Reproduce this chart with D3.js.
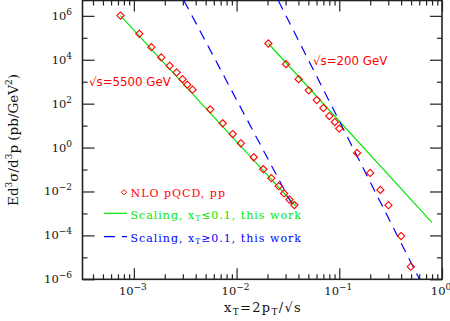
<!DOCTYPE html>
<html>
<head>
<meta charset="utf-8">
<script src="https://cdn.jsdelivr.net/npm/d3@7"></script>
<style>
  body { margin: 0; background: #fff; }
  svg { display: block; }
  .tick-label { font-family: "DejaVu Serif", serif; font-size: 11.5px; fill: #111; }
  .legend-text { font-family: "DejaVu Serif", serif; font-size: 11px; letter-spacing: 1px; }
  .energy { font-family: "DejaVu Sans", sans-serif; font-size: 11.8px; fill: #ff0000; }
</style>
</head>
<body>
<div class="js-d3"></div>
<script>
// NLO pQCD points, sqrt(s) = 5500 GeV
const xt5500 = [0.000741, 0.00113, 0.00148, 0.00185, 0.00223, 0.00261, 0.00298, 0.00331, 0.00373,
  0.00554, 0.00733, 0.00917, 0.0110, 0.0147, 0.0182, 0.0218, 0.0257, 0.0290, 0.0327, 0.0365];
const y5500 = [1.03e6, 1.52e5, 3.74e4, 1.27e4, 5.3e3, 2.65e3, 1.31e3, 730, 433,
  55, 12.7, 4.15, 1.57, 0.362, 0.103, 0.0403, 0.0174, 0.0081, 0.0043, 0.0024];

// NLO pQCD points, sqrt(s) = 200 GeV
const xt200 = [0.0204, 0.0303, 0.0402, 0.0504, 0.0604, 0.070, 0.080, 0.0904, 0.100,
  0.149, 0.200, 0.251, 0.301, 0.40, 0.497];
const y200 = [5.5e4, 6.3e3, 1310, 403, 146, 63, 27.3, 14.6, 7.3,
  0.569, 0.070, 0.0118, 0.00238, 9.3e-5, 3.74e-6];

// scaling curves, read as end points [xT, value]
const lowFit5500 = [[0.000741, 1.03e6], [0.0379, 2.15e-3]];
const lowFit200 = [[0.0204, 5.5e4], [0.797, 3.9e-4]];
const highFit5500 = [[0.00307, 5e6], [0.0357, 2.0e-3]];
const highFit200 = [[0.02547, 5e6], [0.6035, 1e-6]];

const xMajor = [1e-3, 1e-2, 1e-1, 1];
const xMajorExp = ["−3", "−2", "−1", "0"];
const yMajor = [1e-6, 1e-4, 1e-2, 1, 1e2, 1e4, 1e6];
const yMajorExp = ["−6", "−4", "−2", "0", "2", "4", "6"];
const yMinor = [1e-5, 1e-3, 1e-1, 10, 1e3, 1e5];

const red = "#ff0000";
const green = "#00e600";
const blue = "#0000ff";

const W = 450;
const H = 321;
const plot = { left: 82.5, right: 442, top: 0.5, bottom: 279.3 };

const svg = d3
  .select(".js-d3")
  .append("svg")
  .attr("width", W)
  .attr("height", H);

const x = d3.scaleLog().domain([Math.pow(10, -3.5), 1]).range([plot.left, plot.right]);
const y = d3.scaleLog().domain([1e-6, 5e6]).range([plot.bottom, plot.top]);

// minor x ticks 2..9 x 10^k
const xMinor = [];
for (let e = -4; e < 0; e++) {
  for (let m = 2; m <= 9; m++) {
    const v = m * Math.pow(10, e);
    if (v > x.domain()[0] && v < 1) xMinor.push(v);
  }
}

svg
  .append("defs")
  .append("clipPath")
  .attr("id", "clip")
  .append("rect")
  .attr("x", plot.left)
  .attr("y", plot.top)
  .attr("width", plot.right - plot.left)
  .attr("height", plot.bottom - plot.top);

// axes with inward ticks on all four sides
const axisStyle = (g) => {
  g.select(".domain").remove();
  g.selectAll("line").attr("stroke", "#222").attr("stroke-width", 1.2);
  g.selectAll("text").remove();
};

svg.append("g").attr("transform", `translate(0,${plot.bottom})`)
  .call(d3.axisBottom(x).tickValues(xMajor).tickSize(-11)).call(axisStyle);
svg.append("g").attr("transform", `translate(0,${plot.bottom})`)
  .call(d3.axisBottom(x).tickValues(xMinor).tickSize(-5)).call(axisStyle);
svg.append("g").attr("transform", `translate(0,${plot.top})`)
  .call(d3.axisTop(x).tickValues(xMajor).tickSize(-11)).call(axisStyle);
svg.append("g").attr("transform", `translate(0,${plot.top})`)
  .call(d3.axisTop(x).tickValues(xMinor).tickSize(-5)).call(axisStyle);

svg.append("g").attr("transform", `translate(${plot.left},0)`)
  .call(d3.axisLeft(y).tickValues(yMajor).tickSize(-12)).call(axisStyle);
svg.append("g").attr("transform", `translate(${plot.left},0)`)
  .call(d3.axisLeft(y).tickValues(yMinor).tickSize(-5)).call(axisStyle);
svg.append("g").attr("transform", `translate(${plot.right},0)`)
  .call(d3.axisRight(y).tickValues(yMajor).tickSize(-12)).call(axisStyle);
svg.append("g").attr("transform", `translate(${plot.right},0)`)
  .call(d3.axisRight(y).tickValues(yMinor).tickSize(-5)).call(axisStyle);

svg
  .append("rect")
  .attr("x", plot.left)
  .attr("y", plot.top)
  .attr("width", plot.right - plot.left)
  .attr("height", plot.bottom - plot.top)
  .attr("fill", "none")
  .attr("stroke", "#222")
  .attr("stroke-width", 1.6);

// tick labels 10^n
const xLab = svg
  .selectAll(".xlab")
  .data(xMajor)
  .enter()
  .append("text")
  .attr("class", "tick-label")
  .attr("text-anchor", "middle")
  .attr("x", (d) => x(d) - 1)
  .attr("y", 295);
xLab.append("tspan").text("10");
xLab.append("tspan").attr("dy", -5).attr("font-size", "9px").text((d, i) => xMajorExp[i]);

const yLab = svg
  .selectAll(".ylab")
  .data(yMajor)
  .enter()
  .append("text")
  .attr("class", "tick-label")
  .attr("text-anchor", "end")
  .attr("x", 72)
  .attr("y", (d) => y(d) + 4);
yLab.append("tspan").text("10");
yLab.append("tspan").attr("dy", -5).attr("font-size", "9px").text((d, i) => yMajorExp[i]);

// axis titles
const xTitle = svg
  .append("text")
  .attr("font-family", "DejaVu Serif, serif")
  .attr("font-size", "13px")
  .attr("letter-spacing", "1.3px")
  .attr("fill", "#111")
  .attr("text-anchor", "middle")
  .attr("x", 263)
  .attr("y", 312);
xTitle.append("tspan").text("x");
xTitle.append("tspan").attr("dy", 3).attr("font-size", "9px").text("T");
xTitle.append("tspan").attr("dy", -3).text("=2p");
xTitle.append("tspan").attr("dy", 3).attr("font-size", "9px").text("T");
xTitle.append("tspan").attr("dy", -3).text("/√s");

const yTitle = svg
  .append("text")
  .attr("font-family", "DejaVu Serif, serif")
  .attr("font-size", "13.5px")
  .attr("fill", "#111")
  .attr("text-anchor", "middle")
  .attr("transform", "translate(18,140) rotate(-90)");
yTitle.append("tspan").text("Ed");
yTitle.append("tspan").attr("dy", -6).attr("font-size", "9px").text("3");
yTitle.append("tspan").attr("dy", 6).text("σ/d");
yTitle.append("tspan").attr("dy", -6).attr("font-size", "9px").text("3");
yTitle.append("tspan").attr("dy", 6).text("p (pb/GeV");
yTitle.append("tspan").attr("dy", -6).attr("font-size", "9px").text("2");
yTitle.append("tspan").attr("dy", 6).text(")");

// curves and points
const plotArea = svg.append("g").attr("clip-path", "url(#clip)");
const line = d3.line().x((d) => x(d[0])).y((d) => y(d[1]));

[lowFit5500, lowFit200].forEach((seg) => {
  plotArea.append("path").attr("d", line(seg)).attr("fill", "none")
    .attr("stroke", green).attr("stroke-width", 1.2);
});
[highFit5500, highFit200].forEach((seg) => {
  plotArea.append("path").attr("d", line(seg)).attr("fill", "none")
    .attr("stroke", blue).attr("stroke-width", 1.2).attr("stroke-dasharray", "10,7");
});

const diamond = (cx, cy, r) =>
  `M${cx},${cy - r}L${cx + r},${cy}L${cx},${cy + r}L${cx - r},${cy}Z`;

const points = xt5500.map((d, i) => [d, y5500[i]])
  .concat(xt200.map((d, i) => [d, y200[i]]));

plotArea
  .selectAll(".pt")
  .data(points)
  .enter()
  .append("path")
  .attr("class", "pt")
  .attr("d", (d) => diamond(x(d[0]), y(d[1]), 3.6))
  .attr("fill", "none")
  .attr("stroke", red)
  .attr("stroke-width", 1.1);

svg.append("text").attr("class", "energy").attr("x", 89).attr("y", 86).text("√s=5500 GeV");
svg.append("text").attr("class", "energy").attr("x", 313).attr("y", 65).text("√s=200 GeV");

// legend
const legend = svg.append("g");
legend.append("path").attr("d", diamond(124, 192.3, 2.6))
  .attr("fill", "none").attr("stroke", red).attr("stroke-width", 1);
legend.append("text").attr("class", "legend-text").attr("fill", red)
  .attr("x", 130.5).attr("y", 196.5).text("NLO pQCD, pp");

legend.append("line").attr("x1", 104).attr("x2", 127).attr("y1", 213.3).attr("y2", 213.3)
  .attr("stroke", green).attr("stroke-width", 1.2);
const l2 = legend.append("text").attr("class", "legend-text").attr("fill", green)
  .attr("x", 130.5).attr("y", 218.5);
l2.append("tspan").text("Scaling, x");
l2.append("tspan").attr("dy", 2.5).attr("font-size", "7.5px").text("T");
l2.append("tspan").attr("dy", -2.5).text("≤0.1, this work");

legend.append("line").attr("x1", 104).attr("x2", 127).attr("y1", 236.7).attr("y2", 236.7)
  .attr("stroke", blue).attr("stroke-width", 1.2).attr("stroke-dasharray", "11,7");
const l3 = legend.append("text").attr("class", "legend-text").attr("fill", blue)
  .attr("x", 130.5).attr("y", 241.5);
l3.append("tspan").text("Scaling, x");
l3.append("tspan").attr("dy", 2.5).attr("font-size", "7.5px").text("T");
l3.append("tspan").attr("dy", -2.5).text("≥0.1, this work");
</script>
</body>
</html>
